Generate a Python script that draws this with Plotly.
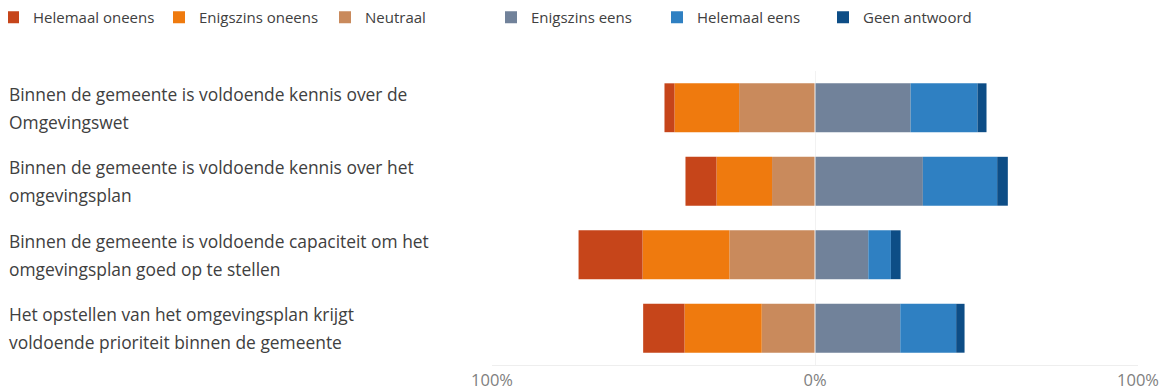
import plotly.graph_objects as go

# stellingen (van boven naar beneden), afgebroken op twee regels
stellingen = [
    "Binnen de gemeente is voldoende kennis over de<br>Omgevingswet",
    "Binnen de gemeente is voldoende kennis over het<br>omgevingsplan",
    "Binnen de gemeente is voldoende capaciteit om het<br>omgevingsplan goed op te stellen",
    "Het opstellen van het omgevingsplan krijgt<br>voldoende prioriteit binnen de gemeente",
]

# percentages per antwoordcategorie
helemaal_oneens = [3.1, 9.6, 19.8, 12.8]
enigszins_oneens = [20.0, 17.2, 26.9, 23.9]
neutraal = [23.5, 13.3, 26.5, 16.5]
enigszins_eens = [29.6, 33.4, 16.5, 26.4]
helemaal_eens = [20.7, 23.0, 7.0, 17.3]
geen_antwoord = [2.8, 3.3, 3.0, 2.6]

tick_vals = [-100, 0, 100]
tick_text = ["100%", "0%", "100%"]

FONT = "Open Sans"
# de pagina heeft 8px body-marge, dus figuur iets kleiner dan het venster
W, H = 1159, 382
M_L, M_R, M_T, M_B = 484, 29, 63, 25

# (naam, waarden, kleur, links van nul, volgorde in legenda)
# negatieve stapel begint bij nul, dus eerst neutraal, dan enigszins, dan helemaal
series = [
    ("Neutraal", neutraal, "#c98a5c", True, 3),
    ("Enigszins oneens", enigszins_oneens, "#ef7a0e", True, 2),
    ("Helemaal oneens", helemaal_oneens, "#c6451a", True, 1),
    ("Enigszins eens", enigszins_eens, "#71829a", False, 4),
    ("Helemaal eens", helemaal_eens, "#2f80c2", False, 5),
    ("Geen antwoord", geen_antwoord, "#0d4d86", False, 6),
]

fig = go.Figure()
for name, values, color, left, rank in series:
    x = [-v for v in values] if left else list(values)
    fig.add_trace(
        go.Bar(
            y=stellingen,
            x=x,
            name=name,
            orientation="h",
            marker=dict(color=color, line=dict(width=0)),
            legendrank=rank,
            customdata=values,
            hovertemplate="%{customdata:.1f}%<extra>" + name + "</extra>",
        )
    )

plot_w = W - M_L - M_R
plot_h = H - M_T - M_B
for label in stellingen:
    lines = label.split("<br>")
    for i, line in enumerate(lines):
        fig.add_annotation(
            x=(-1 - M_L) / plot_w,
            xref="paper",
            y=label,
            yref="y",
            text=line,
            showarrow=False,
            xanchor="left",
            yanchor="middle",
            align="left",
            yshift=14 - 28 * i,
            font=dict(family=FONT, size=17.4, color="#404040"),
        )

# dunne witte scheiding op de nullijn
fig.add_shape(
    type="line", xref="x", yref="paper", x0=0, x1=0, y0=0, y1=1,
    line=dict(color="rgba(255,255,255,0.9)", width=1), layer="above",
)

fig.update_layout(
    width=W,
    height=H,
    margin=dict(l=M_L, r=M_R, t=M_T, b=M_B, autoexpand=False),
    barmode="relative",
    bargap=0.335,
    paper_bgcolor="white",
    plot_bgcolor="white",
    font=dict(family=FONT, size=15, color="#404040"),
    legend=dict(
        orientation="h",
        x=(-15 - M_L) / plot_w,
        xanchor="left",
        y=1 + (M_T + 7) / plot_h,
        yanchor="top",
        traceorder="normal",
        entrywidth=121,
        entrywidthmode="pixels",
        font=dict(family=FONT, size=15, color="#404040"),
    ),
)
fig.update_xaxes(
    range=[-100, 100],
    tickmode="array",
    tickvals=tick_vals,
    ticktext=tick_text,
    tickfont=dict(family=FONT, size=16.5, color="#808080"),
    showgrid=True,
    gridcolor="#e8e8e8",
    gridwidth=1,
    zeroline=False,
    showline=True,
    linecolor="#eeeeee",
    fixedrange=True,
)
fig.update_yaxes(
    autorange="reversed",
    showticklabels=False,
    showgrid=False,
    fixedrange=True,
)

fig.write_html("out.html")
